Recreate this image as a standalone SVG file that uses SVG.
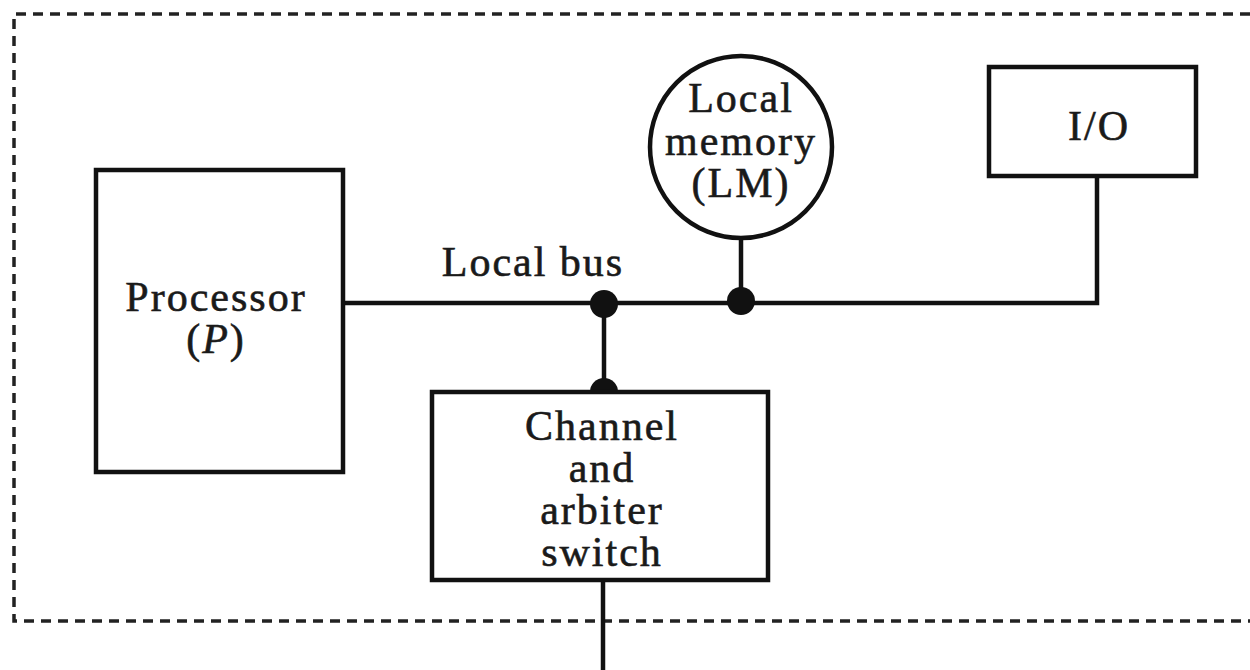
<svg xmlns="http://www.w3.org/2000/svg" width="1250" height="670" viewBox="0 0 1250 670">
<style>
.box{fill:#fff;stroke:#111;stroke-width:4.5}
.ln{fill:none;stroke:#111;stroke-width:4.5}
.dot{fill:#111}
.border{fill:none;stroke:#222;stroke-width:3.5;stroke-dasharray:10 7}
text{font-family:"Liberation Serif","Times New Roman",serif;font-size:42px;fill:#1a1a1a;stroke:#1a1a1a;stroke-width:0.6;letter-spacing:2px;text-anchor:middle}
</style>
<rect width="1250" height="670" fill="#fff"/>
<path class="border" d="M1250,14 H14 V621 H1250"/>
<g id="connectors">
<path class="ln" d="M343,303 H1097 V176"/>
<path class="ln" d="M741,238 V303"/>
<path class="ln" d="M604,303 V392"/>
<path class="ln" d="M603,580 V670"/>
<circle class="dot" cx="604" cy="304" r="14"/>
<circle class="dot" cx="741" cy="301" r="14"/>
<circle class="dot" cx="604" cy="392" r="14"/>
</g>
<g id="processor">
<rect class="box" x="96" y="170" width="247" height="302"/>
<text x="216" y="311">Processor</text>
<text x="216" y="353">(<tspan font-style="italic">P</tspan>)</text>
</g>
<g id="local-memory">
<circle class="box" cx="741" cy="147" r="91"/>
<text x="741" y="112">Local</text>
<text x="741" y="155">memory</text>
<text x="741" y="197">(LM)</text>
</g>
<g id="io">
<rect class="box" x="989" y="67" width="207" height="109"/>
<text x="1099" y="140">I/O</text>
</g>
<g id="local-bus-label">
<text x="533" y="276">Local bus</text>
</g>
<g id="channel">
<rect class="box" x="432" y="392" width="336" height="188"/>
<text x="602" y="440">Channel</text>
<text x="602" y="482">and</text>
<text x="602" y="524">arbiter</text>
<text x="602" y="566">switch</text>
</g>
</svg>
